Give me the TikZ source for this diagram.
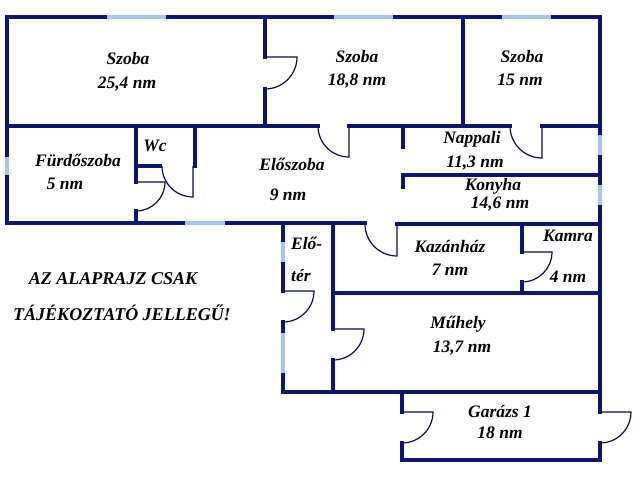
\documentclass[tikz,border=0pt]{standalone}
\usepackage{fontspec}
\setmainfont{Liberation Serif}
\definecolor{wallc}{RGB}{12,22,112}
\definecolor{winc}{RGB}{165,200,232}
\tikzset{
  wall/.style={draw=wallc,line width=4.8pt,line cap=rect,line join=miter},
  window/.style={draw=winc,line width=4.8pt,line cap=butt},
  door/.style={draw=wallc!70!black,line width=1.2pt},
  lbl/.style={font=\fontsize{17.5}{19}\selectfont\bfseries\itshape,inner sep=0pt},
  warn/.style={font=\fontsize{18}{20}\selectfont\bfseries\itshape,inner sep=0pt}
}
\begin{document}
\begin{tikzpicture}[x=1pt,y=-1pt]
\useasboundingbox (0,0) rectangle (640,480);
\fill[white] (0,0) rectangle (640,480);
% outer walls
\draw[wall] (7,223) -- (7,17) -- (600,17) -- (600,412);
\draw[wall] (600,443) -- (600,460) -- (402,460) -- (402,443);
\draw[wall] (402,412) -- (402,392);
\draw[wall] (7,223) -- (365,223);
\draw[wall] (397,224) -- (600,224);
% room dividers
\draw[wall] (265,17) -- (265,57);
\draw[wall] (265,89) -- (265,126);
\draw[wall] (463,17) -- (463,126);
\draw[wall] (7,126) -- (318,126);
\draw[wall] (349,126) -- (510,126);
\draw[wall] (542,126) -- (600,126);
\draw[wall] (136,126) -- (136,182);
\draw[wall] (136,211) -- (136,223);
\draw[wall] (136,166) -- (160,166);
\draw[wall] (195,126) -- (195,166);
\draw[wall] (403,126) -- (403,147);
\draw[wall] (403,187) -- (403,175) -- (600,175);
\draw[wall] (283,223) -- (283,291);
\draw[wall] (283,322) -- (283,392) -- (600,392);
\draw[wall] (333,223) -- (333,329);
\draw[wall] (333,360) -- (333,392);
\draw[wall] (333,293) -- (600,293);
\draw[wall] (522,224) -- (522,252);
\draw[wall] (522,282) -- (522,293);
% windows
\draw[window] (107,17) -- (166,17);
\draw[window] (334,17) -- (393,17);
\draw[window] (502,17) -- (551,17);
\draw[window] (600,135) -- (600,155);
\draw[window] (600,185) -- (600,205);
\draw[window] (7,157) -- (7,175);
\draw[window] (185,223) -- (225,223);
\draw[window] (283,242) -- (283,262);
\draw[window] (283,333) -- (283,373);
% doors
\draw[door] (265,57) -- (297,57) arc[start angle=0,end angle=90,radius=32];
\draw[door] (349,126) -- (349,157) arc[start angle=90,end angle=180,radius=31];
\draw[door] (542,126) -- (542,158) arc[start angle=90,end angle=180,radius=32];
\draw[door] (136,182) -- (165,182) arc[start angle=0,end angle=90,radius=29];
\draw[door] (193,166) -- (193,197) arc[start angle=90,end angle=180,radius=31];
\draw[door] (397,224) -- (397,256) arc[start angle=90,end angle=180,radius=32];
\draw[door] (522,252) -- (552,252) arc[start angle=0,end angle=90,radius=30];
\draw[door] (283,291) -- (314,291) arc[start angle=0,end angle=90,radius=31];
\draw[door] (333,329) -- (364,329) arc[start angle=0,end angle=90,radius=31];
\draw[door] (402,412) -- (433,412) arc[start angle=0,end angle=90,radius=31];
\draw[door] (600,412) -- (631,412) arc[start angle=0,end angle=90,radius=31];
% labels
\node[lbl] (s1a) at (128,59) {Szoba};
\node[lbl] (s1b) at (127,84) {25,4 nm};
\node[lbl] (s2a) at (357,57) {Szoba};
\node[lbl] (s2b) at (357,81) {18,8 nm};
\node[lbl] (s3a) at (522,57) {Szoba};
\node[lbl] (s3b) at (520,80) {15 nm};
\node[lbl] (fa) at (78,160) {Fürdőszoba};
\node[lbl] (fb) at (65,184) {5 nm};
\node[lbl] (wc) at (155,146) {Wc};
\node[lbl] (ea) at (292,164) {Előszoba};
\node[lbl] (eb) at (288,195) {9 nm};
\node[lbl] (na) at (472,139) {Nappali};
\node[lbl] (nb) at (475,163) {11,3 nm};
\node[lbl] (ka) at (493,186) {Konyha};
\node[lbl] (kb) at (500,204) {14,6 nm};
\node[lbl] (kza) at (450,247) {Kazánház};
\node[lbl] (kzb) at (450,270) {7 nm};
\node[lbl] (kma) at (568,236) {Kamra};
\node[lbl] (kmb) at (568,277) {4 nm};
\node[lbl,anchor=west] (eta) at (291,243) {Elő-};
\node[lbl,anchor=west] (etb) at (291,275) {tér};
\node[lbl] (ma) at (458,324) {Műhely};
\node[lbl] (mb) at (462,348) {13,7 nm};
\node[lbl] (ga) at (500,412) {Garázs 1};
\node[lbl] (gb) at (500,433) {18 nm};
\node[warn] (w1) at (113,279) {AZ ALAPRAJZ CSAK};
\node[warn] (w2) at (122,313) {TÁJÉKOZTATÓ JELLEGŰ!};
\end{tikzpicture}
\end{document}
